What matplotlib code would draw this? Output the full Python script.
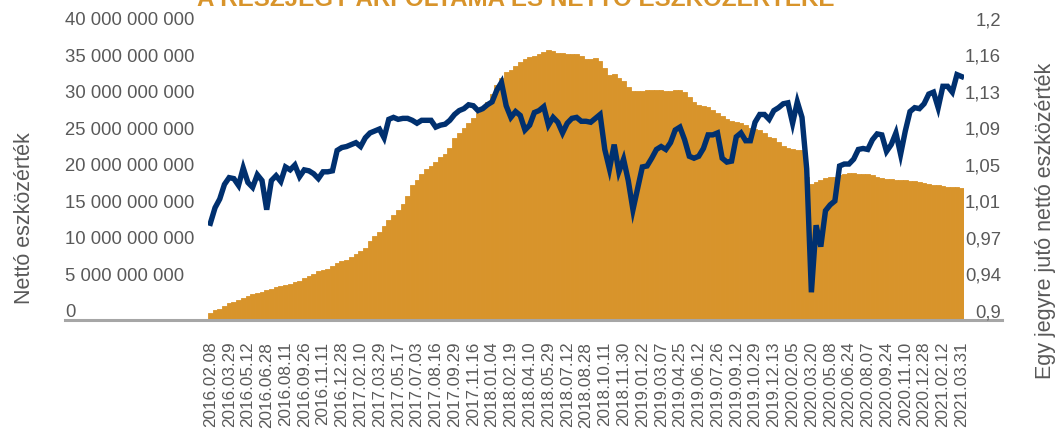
import numpy as np
import matplotlib
matplotlib.use('Agg')
import matplotlib.pyplot as plt
from matplotlib.lines import Line2D
from matplotlib.transforms import blended_transform_factory, ScaledTranslation

plt.rcParams['font.family'] = ['Liberation Sans', 'DejaVu Sans']

title = 'A RÉSZJEGY ÁRFOLYAMA ÉS NETTÓ ESZKÖZÉRTÉKE'
left_label = 'Nettó eszközérték'
right_label = 'Egy jegyre jutó nettó eszközérték'

date_labels = ['2016.02.08', '2016.03.29', '2016.05.12', '2016.06.28', '2016.08.11',
               '2016.09.26', '2016.11.11', '2016.12.28', '2017.02.10', '2017.03.29',
               '2017.05.17', '2017.07.03', '2017.08.16', '2017.09.29', '2017.11.16',
               '2018.01.04', '2018.02.19', '2018.04.10', '2018.05.29', '2018.07.12',
               '2018.08.28', '2018.10.11', '2018.11.30', '2019.01.22', '2019.03.07',
               '2019.04.25', '2019.06.12', '2019.07.26', '2019.09.12', '2019.10.29',
               '2019.12.13', '2020.02.05', '2020.03.20', '2020.05.08', '2020.06.24',
               '2020.08.07', '2020.09.24', '2020.11.10', '2020.12.28', '2021.02.12',
               '2021.03.31']

# nettó eszközérték, milliárd Ft (4 érték címkénként)
nav_mrd = [0.9, 1.3, 1.5, 1.9, 2.2, 2.4, 2.7, 3.0, 3.2, 3.5,
           3.6, 3.8, 4.0, 4.2, 4.4, 4.6, 4.7, 4.9, 5.1, 5.3,
           5.65, 5.95, 6.3, 6.6, 6.8, 6.9, 7.4, 7.8, 8.0, 8.2,
           8.6, 9.0, 9.4, 9.8, 10.8, 11.5, 12.0, 12.8, 13.7, 14.3,
           15.0, 15.8, 16.9, 18.4, 19.2, 19.9, 20.6, 21.1, 21.6, 22.3,
           22.7, 23.5, 24.9, 25.6, 26.3, 26.9, 27.6, 28.3, 29.0, 29.9,
           31.0, 32.2, 33.2, 33.9, 34.3, 34.8, 35.3, 35.7, 36.0, 36.2,
           36.5, 36.7, 37.0, 36.9, 36.6, 36.6, 36.5, 36.5, 36.4, 36.2,
           35.7, 35.7, 35.9, 35.5, 34.5, 33.6, 33.7, 33.2, 32.7, 31.9,
           31.3, 31.3, 31.4, 31.5, 31.5, 31.5, 31.5, 31.4, 31.4, 31.5,
           31.5, 31.2, 30.5, 29.9, 29.5, 29.3, 29.1, 28.7, 28.3, 27.9,
           27.5, 27.2, 27.1, 27.0, 26.7, 26.3, 26.2, 26.0, 25.6, 25.1,
           24.9, 24.3, 23.8, 23.5, 23.4, 23.3, 23.2, 19.5, 18.6, 18.9,
           19.1, 19.4, 19.5, 19.6, 19.8, 20.0, 20.1, 20.1, 20.0, 20.0,
           20.0, 19.8, 19.5, 19.4, 19.3, 19.3, 19.2, 19.1, 19.1, 19.0,
           19.0, 18.9, 18.7, 18.6, 18.5, 18.4, 18.3, 18.2, 18.2, 18.2,
           18.1]

# egy jegyre jutó nettó eszközérték
price = [0.999, 1.015, 1.024, 1.039, 1.046, 1.045, 1.038, 1.056, 1.041, 1.036,
         1.049, 1.043, 1.013, 1.043, 1.048, 1.042, 1.057, 1.054, 1.059, 1.047,
         1.054, 1.053, 1.050, 1.045, 1.052, 1.052, 1.053, 1.074, 1.077, 1.078,
         1.080, 1.082, 1.078, 1.087, 1.092, 1.094, 1.096, 1.087, 1.106, 1.108,
         1.106, 1.107, 1.107, 1.105, 1.102, 1.105, 1.105, 1.105, 1.098, 1.100,
         1.101, 1.105, 1.111, 1.115, 1.117, 1.121, 1.120, 1.115, 1.117, 1.121,
         1.124, 1.136, 1.144, 1.120, 1.108, 1.114, 1.110, 1.095, 1.100, 1.113,
         1.115, 1.119, 1.100, 1.108, 1.103, 1.092, 1.102, 1.107, 1.108, 1.104,
         1.104, 1.103, 1.107, 1.111, 1.075, 1.055, 1.080, 1.052, 1.065, 1.043,
         1.013, 1.035, 1.057, 1.058, 1.066, 1.075, 1.078, 1.075, 1.082, 1.095,
         1.098, 1.085, 1.068, 1.066, 1.068, 1.076, 1.090, 1.090, 1.092, 1.066,
         1.062, 1.063, 1.088, 1.092, 1.084, 1.084, 1.103, 1.111, 1.111, 1.106,
         1.115, 1.118, 1.122, 1.123, 1.102, 1.124, 1.108, 1.055, 0.928, 0.997,
         0.975, 1.012, 1.018, 1.022, 1.058, 1.060, 1.060, 1.065, 1.075, 1.076,
         1.075, 1.085, 1.091, 1.090, 1.073, 1.080, 1.092, 1.070, 1.094, 1.114,
         1.118, 1.117, 1.122, 1.132, 1.134, 1.118, 1.140, 1.140, 1.134, 1.152,
         1.150]

nav_ticks = [0, 5e9, 10e9, 15e9, 20e9, 25e9, 30e9, 35e9, 40e9]
nav_tick_labels = ['0', '5 000 000 000', '10 000 000 000', '15 000 000 000',
                   '20 000 000 000', '25 000 000 000', '30 000 000 000',
                   '35 000 000 000', '40 000 000 000']
price_ticks = [0.9, 0.9375, 0.975, 1.0125, 1.05, 1.0875, 1.125, 1.1625, 1.2]
price_tick_labels = ['0,9', '0,94', '0,97', '1,01', '1,05', '1,09', '1,13', '1,16', '1,2']

orange = '#D8942B'
navy = '#00306F'
gray_text = '#595959'

W, H = 1059, 430
fig = plt.figure(figsize=(W / 100, H / 100), dpi=100)
ax = fig.add_axes([208 / W, 1 - 319.5 / H, (964 - 208) / W, (319.5 - 28) / H])

x = np.arange(len(nav_mrd))
ax.bar(x, np.array(nav_mrd) * 1e9, width=1.0, color=orange, edgecolor=orange, linewidth=0.6)
ax.set_xlim(-0.5, len(nav_mrd) - 0.5)
ax.set_ylim(0, 40e9)
ax.set_yticks([])
ax.set_xticks(np.arange(0, len(nav_mrd), 4), date_labels, rotation=90)
ax.tick_params(axis='x', length=0, pad=16, labelsize=12.3, labelcolor=gray_text)
for s in ax.spines.values():
    s.set_visible(False)

ax2 = ax.twinx()
ax2.plot(x, price, color=navy, lw=3.9, solid_joinstyle='miter')
ax2.set_ylim(0.9, 1.2)
ax2.set_yticks([])
for s in ax2.spines.values():
    s.set_visible(False)

# tengelyfeliratok kézzel (kicsit a jelölők fölött)
up = ScaledTranslation(0, 7 / 100, fig.dpi_scale_trans)
tr_l = blended_transform_factory(fig.transFigure, ax.transData) + up
for v, lab in zip(nav_ticks, nav_tick_labels):
    fig.text(65 / W, v, lab, transform=tr_l, ha='left', va='center',
             fontsize=13.3, color=gray_text)
tr_r = blended_transform_factory(fig.transFigure, ax2.transData) + up
for v, lab in zip(price_ticks, price_tick_labels):
    fig.text(1001 / W, v, lab, transform=tr_r, ha='right', va='center',
             fontsize=13.3, color=gray_text)

fig.add_artist(Line2D([65 / W, 1002 / W], [1 - 319.5 / H] * 2, transform=fig.transFigure,
                      color='#A6A6A6', lw=2.2))

fig.text(25 / W, 1 - 218 / H, left_label, rotation=90, ha='center', va='center',
         fontsize=15.5, color=gray_text)
fig.text(1046 / W, 1 - 221 / H, right_label, rotation=90, ha='center', va='center',
         fontsize=15.5, color=gray_text)
fig.text(197 / W, 1 - 6 / H, title, ha='left', va='baseline', fontsize=17.4,
         fontweight='bold', color=orange)

plt.savefig('out.png', dpi=100)
